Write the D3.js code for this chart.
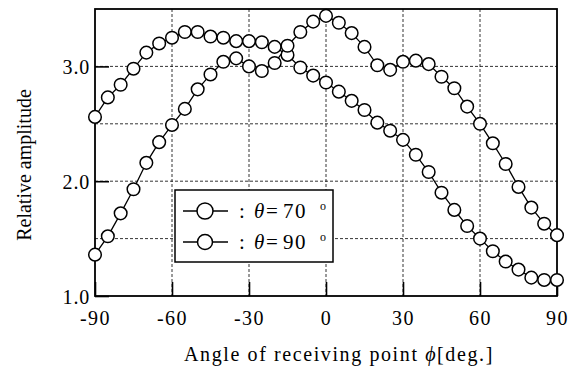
<!DOCTYPE html>
<html><head><meta charset="utf-8">
<script src="https://cdn.jsdelivr.net/npm/d3@7"></script>
<style>body{margin:0;background:#fff}svg{display:block}text{font-family:"Liberation Serif","Times New Roman",serif;fill:#000}</style>
</head><body><svg id="c" width="574" height="369"></svg>
<script>
const phi = [-90,-85,-80,-75,-70,-65,-60,-55,-50,-45,-40,-35,-30,-25,-20,-15,-10,-5,0,5,10,15,20,25,30,35,40,45,50,55,60,65,70,75,80,85,90];
const theta70 = [2.56,2.73,2.84,2.98,3.12,3.20,3.25,3.30,3.30,3.26,3.25,3.22,3.22,3.21,3.17,3.10,2.99,2.92,2.86,2.78,2.70,2.62,2.51,2.44,2.36,2.23,2.08,1.90,1.75,1.61,1.50,1.39,1.30,1.23,1.16,1.14,1.14];
const theta90 = [1.36,1.52,1.72,1.93,2.16,2.34,2.49,2.63,2.80,2.93,3.04,3.07,3.00,2.96,3.03,3.18,3.30,3.39,3.44,3.38,3.29,3.17,3.01,2.97,3.04,3.05,3.02,2.91,2.81,2.65,2.50,2.33,2.15,1.95,1.77,1.63,1.53];
const xTicks = [-90,-60,-30,0,30,60,90];
const yTicks = [1.0,2.0,3.0];
const yGrid = [1.5,2.0,2.5,3.0];
const xGrid = [-60,-30,0,30,60];
const legendLabels = ["70","90"];

const L=95,T=9,R=557,B=296;
const svg=d3.select("#c");
const x=d3.scaleLinear().domain([-90,90]).range([L,R]);
const y=d3.scaleLinear().domain([1,3.5]).range([B,T]);

// grid
const g=svg.append("g");
g.selectAll(".gy").data(yGrid).join("line")
 .attr("x1",L).attr("x2",R).attr("y1",d=>y(d)).attr("y2",d=>y(d))
 .attr("stroke","#000").attr("stroke-width",0.8).attr("stroke-dasharray","3,2");
g.selectAll(".gx").data(xGrid).join("line")
 .attr("y1",T).attr("y2",B).attr("x1",d=>x(d)).attr("x2",d=>x(d))
 .attr("stroke","#000").attr("stroke-width",0.8).attr("stroke-dasharray","3,2");

// axes (inward ticks)
const xa=svg.append("g").attr("transform",`translate(0,${B})`)
 .call(d3.axisBottom(x).tickValues(xTicks).tickSizeInner(-14).tickSizeOuter(0).tickPadding(29).tickFormat(d=>String(d)));
const ya=svg.append("g").attr("transform",`translate(${L},0)`)
 .call(d3.axisLeft(y).tickValues(yTicks).tickSizeInner(-14).tickSizeOuter(0).tickPadding(5).tickFormat(d3.format(".1f")));
[xa,ya].forEach(a=>{a.select(".domain").remove();a.selectAll("line").attr("stroke","#000").attr("stroke-width",1.6);
 a.selectAll("text").style("font-size","20px").style("letter-spacing","0.8px").attr("fill","#000");});
ya.selectAll("text").attr("dy","0.35em");
xa.selectAll("text").attr("dy","0").style("letter-spacing","1.5px");
// frame
svg.append("rect").attr("x",L).attr("y",T).attr("width",R-L).attr("height",B-T)
 .attr("fill","none").attr("stroke","#000").attr("stroke-width",1.8);

// series
const line=d3.line().x((d,i)=>x(phi[i])).y(d=>y(d));
[theta70,theta90].forEach(s=>{
 svg.append("path").datum(s).attr("d",line).attr("fill","none").attr("stroke","#000").attr("stroke-width",1.3);
});
[theta70,theta90].forEach(s=>{
 svg.append("g").selectAll("circle").data(s).join("circle")
  .attr("cx",(d,i)=>x(phi[i])).attr("cy",d=>y(d)).attr("r",6.3)
  .attr("fill","#fff").attr("stroke","#000").attr("stroke-width",1.5);
});

// legend
const lg=svg.append("g");
lg.append("rect").attr("x",175).attr("y",190).attr("width",158).attr("height",72)
 .attr("fill","#fff").attr("stroke","#000").attr("stroke-width",1.5);
legendLabels.forEach((lab,i)=>{
 const cy=211+i*31;
 lg.append("line").attr("x1",183).attr("x2",228).attr("y1",cy).attr("y2",cy).attr("stroke","#000").attr("stroke-width",1.3);
 lg.append("circle").attr("cx",205).attr("cy",cy).attr("r",i===0?8:7.5).attr("fill","#fff").attr("stroke","#000").attr("stroke-width",1.5);
 const t=lg.append("text").attr("y",cy+7).style("font-size","21px");
 t.append("tspan").attr("x",239).text(":");
 t.append("tspan").attr("x",254).style("font-style","italic").text("θ");
 t.append("tspan").attr("x",266).text("=");
 t.append("tspan").attr("x",283).style("letter-spacing","1.5px").text(lab);
 t.append("tspan").attr("x",320).attr("dy",-8).style("font-size","12px").text("o");
});

// axis titles
const xt=svg.append("text").attr("x",339).attr("y",361).attr("text-anchor","middle").style("font-size","20px").style("letter-spacing","1.6px");
xt.append("tspan").text("Angle of receiving point ");
xt.append("tspan").style("font-style","italic").text("ϕ");
xt.append("tspan").text("[deg.]");
svg.append("text").attr("transform","translate(31,165) rotate(-90)").attr("text-anchor","middle").style("font-size","20px")
 .text("Relative amplitude");
</script></body></html>
